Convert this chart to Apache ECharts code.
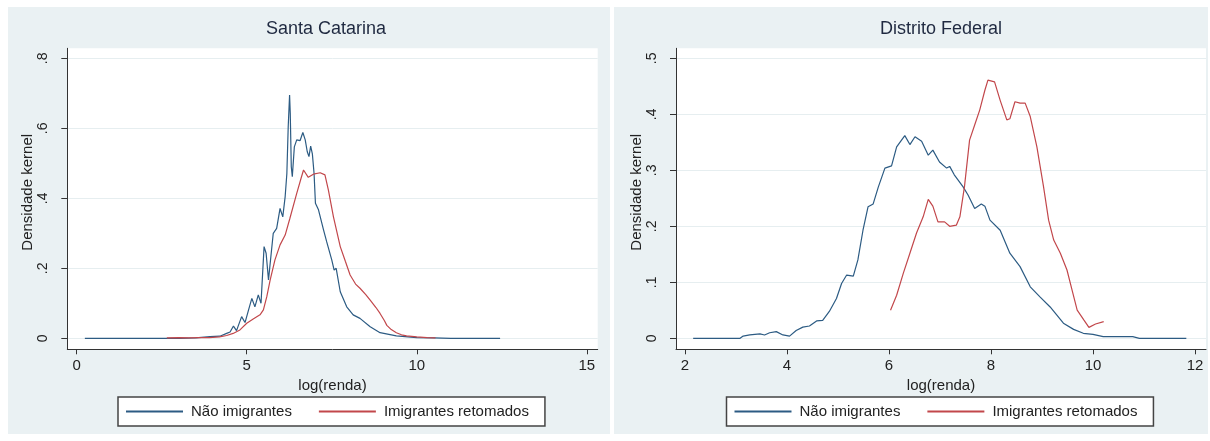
<!DOCTYPE html>
<html>
<head>
<meta charset="utf-8">
<script src="https://cdn.jsdelivr.net/npm/echarts@6/dist/echarts.min.js"></script>
<style>
  html, body { margin: 0; padding: 0; background: #ffffff; }
  #chart { width: 1210px; height: 441px; }
</style>
</head>
<body>
<div id="chart"></div>
<script>
// ---------- Data ----------
const seriesNames = ['Não imigrantes', 'Imigrantes retomados'];
const panelTitles = ['Santa Catarina', 'Distrito Federal'];

// Santa Catarina — Não imigrantes
const scNaoX = [0.24, 1.0, 2.0, 3.0, 3.5, 3.92, 4.21, 4.41, 4.51, 4.61, 4.70, 4.85, 4.95, 5.05, 5.15, 5.24, 5.34, 5.42, 5.51, 5.57, 5.64, 5.78, 5.88, 5.98, 6.06, 6.13, 6.18, 6.22, 6.26, 6.28, 6.31, 6.34, 6.40, 6.47, 6.57, 6.65, 6.72, 6.78, 6.83, 6.88, 6.93, 6.98, 7.02, 7.11, 7.26, 7.35, 7.50, 7.57, 7.63, 7.75, 7.94, 8.13, 8.33, 8.63, 8.92, 9.40, 10.0, 10.5, 11.0, 12.45];
const scNaoY = [0, 0, 0, 0, 0.001, 0.005, 0.006, 0.014, 0.018, 0.035, 0.022, 0.062, 0.045, 0.08, 0.114, 0.09, 0.124, 0.1, 0.262, 0.243, 0.167, 0.30, 0.314, 0.371, 0.347, 0.405, 0.471, 0.605, 0.695, 0.643, 0.49, 0.462, 0.547, 0.567, 0.565, 0.588, 0.567, 0.533, 0.519, 0.549, 0.527, 0.471, 0.386, 0.367, 0.309, 0.276, 0.224, 0.195, 0.2, 0.133, 0.09, 0.067, 0.057, 0.033, 0.016, 0.007, 0.002, 0.001, 0, 0];

// Santa Catarina — Imigrantes retomados
const scRetX = [2.65, 3.0, 3.3, 3.6, 3.9, 4.2, 4.41, 4.6, 4.8, 5.0, 5.19, 5.39, 5.49, 5.59, 5.69, 5.83, 5.98, 6.13, 6.27, 6.47, 6.60, 6.67, 6.81, 6.96, 7.16, 7.30, 7.40, 7.55, 7.75, 7.90, 8.04, 8.20, 8.33, 8.50, 8.63, 8.80, 8.92, 9.05, 9.12, 9.25, 9.40, 9.55, 9.70, 10.0, 10.3, 10.55];
const scRetY = [0.001, 0.002, 0.001, 0.002, 0.002, 0.004, 0.008, 0.014, 0.024, 0.043, 0.055, 0.067, 0.081, 0.119, 0.167, 0.224, 0.267, 0.295, 0.343, 0.414, 0.458, 0.481, 0.46, 0.469, 0.473, 0.467, 0.424, 0.347, 0.262, 0.22, 0.181, 0.155, 0.143, 0.125, 0.109, 0.088, 0.071, 0.05, 0.037, 0.025, 0.016, 0.01, 0.007, 0.004, 0.002, 0.001];

// Distrito Federal — Não imigrantes
const dfNaoX = [2.16, 3.08, 3.14, 3.27, 3.47, 3.56, 3.66, 3.79, 3.92, 4.05, 4.18, 4.31, 4.44, 4.58, 4.70, 4.83, 4.97, 5.07, 5.17, 5.30, 5.39, 5.49, 5.59, 5.69, 5.79, 5.92, 6.05, 6.15, 6.31, 6.41, 6.51, 6.64, 6.77, 6.86, 6.99, 7.13, 7.19, 7.28, 7.45, 7.55, 7.68, 7.81, 7.88, 7.98, 8.18, 8.37, 8.57, 8.77, 8.96, 9.16, 9.42, 9.62, 9.81, 10.0, 10.2, 10.78, 10.91, 11.83];
const dfNaoY = [0, 0, 0.004, 0.006, 0.008, 0.006, 0.01, 0.012, 0.006, 0.004, 0.014, 0.02, 0.022, 0.031, 0.032, 0.048, 0.071, 0.098, 0.113, 0.111, 0.14, 0.193, 0.235, 0.24, 0.27, 0.304, 0.308, 0.342, 0.362, 0.346, 0.36, 0.352, 0.327, 0.336, 0.315, 0.304, 0.307, 0.292, 0.271, 0.256, 0.232, 0.24, 0.236, 0.211, 0.193, 0.152, 0.128, 0.092, 0.074, 0.056, 0.027, 0.016, 0.009, 0.007, 0.003, 0.003, 0, 0];

// Distrito Federal — Imigrantes retomados
const dfRetX = [6.03, 6.15, 6.28, 6.41, 6.54, 6.67, 6.77, 6.86, 6.96, 7.09, 7.19, 7.32, 7.39, 7.48, 7.58, 7.68, 7.78, 7.88, 7.94, 8.07, 8.18, 8.31, 8.37, 8.47, 8.57, 8.67, 8.77, 8.90, 9.03, 9.13, 9.23, 9.36, 9.49, 9.59, 9.69, 9.82, 9.92, 10.05, 10.21];
const dfRetY = [0.05, 0.077, 0.116, 0.152, 0.188, 0.217, 0.248, 0.236, 0.208, 0.208, 0.2, 0.202, 0.217, 0.271, 0.354, 0.381, 0.408, 0.443, 0.461, 0.458, 0.425, 0.39, 0.392, 0.4225, 0.42, 0.42, 0.396, 0.342, 0.271, 0.211, 0.1755, 0.152, 0.122, 0.086, 0.0505, 0.033, 0.0196, 0.0255, 0.0297];

// Tick labels
const scXTicks = [0, 5, 10, 15];
const scYTicks = [0, 0.2, 0.4, 0.6, 0.8];
const dfXTicks = [2, 4, 6, 8, 10, 12];
const dfYTicks = [0, 0.1, 0.2, 0.3, 0.4, 0.5];

// ---------- Chart ----------
const zip = (xs, ys) => xs.map((x, i) => [x, ys[i]]);
const FONT = '"Liberation Sans", Arial, Helvetica, sans-serif';
const BLUE = '#2c5b83';
const RED = '#c2474b';
const PANEL_BG = '#eaf1f3';
const INK = '#222222';

const fmtY = v => (v === 0 ? '0' : String(+v.toFixed(2)).replace(/^0\./, '.'));

function xAxisCfg(gi, min, max, ticks) {
  return {
    type: 'value', gridIndex: gi, min: min, max: max,
    axisLine: { show: true, onZero: false, lineStyle: { color: '#333', width: 1 } },
    axisTick: { show: true, customValues: ticks, length: 5, lineStyle: { color: '#333', width: 1 } },
    axisLabel: { customValues: ticks, fontSize: 15, color: INK, fontFamily: FONT, margin: 9 },
    splitLine: { show: false },
    name: 'log(renda)', nameLocation: 'middle', nameGap: 25,
    nameTextStyle: { fontSize: 15, color: INK, fontFamily: FONT }
  };
}
function yAxisCfg(gi, min, max, ticks) {
  return {
    type: 'value', gridIndex: gi, min: min, max: max,
    axisLine: { show: true, onZero: false, lineStyle: { color: '#333', width: 1 } },
    axisTick: { show: true, customValues: ticks, length: 6, lineStyle: { color: '#333', width: 1 } },
    axisLabel: { customValues: ticks, rotate: 90, fontSize: 14, color: INK, fontFamily: FONT, margin: 17, formatter: fmtY },
    splitLine: { show: true, lineStyle: { color: '#e6eef0', width: 1 } },
    name: 'Densidade kernel', nameLocation: 'middle', nameGap: 28,
    nameTextStyle: { fontSize: 15, color: INK, fontFamily: FONT, padding: [0, 0, 0, 13] }
  };
}
function legendCfg(left) {
  return {
    left: left, top: 397, orient: 'horizontal',
    data: seriesNames,
    backgroundColor: '#ffffff', borderColor: '#444', borderWidth: 1.5, borderRadius: 0,
    padding: [7, 16, 7, 7], itemWidth: 57, itemHeight: 14, itemGap: 26,
    itemStyle: { opacity: 0, borderWidth: 0 },
    textStyle: { fontSize: 15, color: INK, fontFamily: FONT, padding: [0, 0, 0, 3] },
    selectedMode: false
  };
}
function lineSeries(name, xi, data, color) {
  return {
    type: 'line', name: name, xAxisIndex: xi, yAxisIndex: xi, data: data,
    symbol: 'none', showSymbol: false, smooth: false,
    lineStyle: { color: color, width: 1.2 }, itemStyle: { color: color },
    emphasis: { disabled: true }
  };
}

const chart = echarts.init(document.getElementById('chart'), null, { renderer: 'canvas' });
chart.setOption({
  animation: false,
  backgroundColor: '#ffffff',
  textStyle: { fontFamily: FONT },
  graphic: [
    { type: 'rect', z: -100, silent: true, shape: { x: 8, y: 7, width: 602, height: 427 }, style: { fill: PANEL_BG } },
    { type: 'rect', z: -100, silent: true, shape: { x: 614, y: 7, width: 594, height: 427 }, style: { fill: PANEL_BG } }
  ],
  title: [
    { text: panelTitles[0], left: 326, top: 20, textAlign: 'center', padding: 0,
      textStyle: { fontSize: 18, fontWeight: 'normal', color: '#1f2940', fontFamily: FONT } },
    { text: panelTitles[1], left: 941, top: 20, textAlign: 'center', padding: 0,
      textStyle: { fontSize: 18, fontWeight: 'normal', color: '#1f2940', fontFamily: FONT } }
  ],
  grid: [
    { left: 67.3, top: 48.3, width: 530.4, height: 301, show: true, backgroundColor: '#ffffff', borderWidth: 0, containLabel: false, outerBoundsMode: 'none' },
    { left: 676, top: 48.3, width: 530, height: 301, show: true, backgroundColor: '#ffffff', borderWidth: 0, containLabel: false, outerBoundsMode: 'none' }
  ],
  xAxis: [
    xAxisCfg(0, -0.276, 15.32, scXTicks),
    xAxisCfg(1, 1.8235, 12.216, dfXTicks)
  ],
  yAxis: [
    yAxisCfg(0, -0.0314, 0.8286, scYTicks),
    yAxisCfg(1, -0.0196, 0.5179, dfYTicks)
  ],
  legend: [legendCfg(118), legendCfg(726.5)],
  tooltip: { show: false },
  series: [
    lineSeries(seriesNames[0], 0, zip(scNaoX, scNaoY), BLUE),
    lineSeries(seriesNames[1], 0, zip(scRetX, scRetY), RED),
    lineSeries(seriesNames[0], 1, zip(dfNaoX, dfNaoY), BLUE),
    lineSeries(seriesNames[1], 1, zip(dfRetX, dfRetY), RED)
  ]
});
</script>
</body>
</html>
